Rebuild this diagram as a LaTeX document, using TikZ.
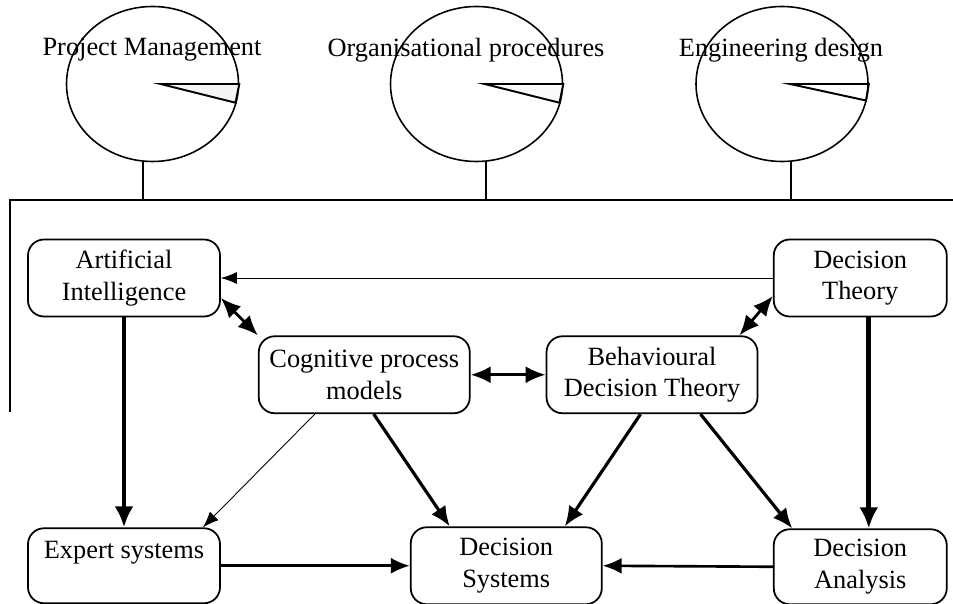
\documentclass[tikz,border=0pt]{standalone}
\usepackage{fontspec}
\setmainfont{Liberation Serif}
\usetikzlibrary{shapes.geometric, arrows.meta, positioning, calc}

\begin{document}
\begin{tikzpicture}[node distance=1cm, font=\fontsize{15}{18}\selectfont]
        \tikzstyle{box} = [rectangle, rounded corners=0.32cm, minimum height=1.54cm, align=center, draw=black, line width=1pt, inner sep=2pt]
        \tikzstyle{area} = [ellipse, minimum width=3.44cm, minimum height=3.1cm, draw=black, line width=0.9pt, inner sep=0pt]
        \tikzstyle{wedge} = [draw=black, line width=1.1pt, line join=miter]
        \tikzstyle{frame} = [line width=1.2pt]
        \tikzstyle{heavy} = [line width=2.6pt, -{Latex[length=4.2mm,width=3.8mm]}]
        \tikzstyle{bold} = [line width=1.8pt, -{Latex[length=4mm,width=3.4mm]}]
        \tikzstyle{plain} = [line width=1.5pt, -{Latex[length=3.8mm,width=3.2mm]}]
        \tikzstyle{both} = [line width=1.6pt, {Latex[length=4mm,width=3.4mm]}-{Latex[length=4mm,width=3.4mm]}]
        \tikzstyle{faint} = [line width=0.5pt, -{Latex[length=3.2mm,width=2.4mm]}]

        \useasboundingbox (0,0) rectangle (19.06,12.06);

        % Application areas
        \node (pm) [area] at (3.05,10.38) {};
        \node (op) [area] at (9.53,10.38) {};
        \node (ed) [area] at (15.64,10.38) {};
        \draw [wedge, fill=gray!8] ([xshift=0.16cm]pm.center) -- (pm.east) -- ($(pm.center)+(1.66,-0.375)$) -- cycle;
        \draw [wedge, fill=gray!4] ([xshift=0.16cm]op.center) -- (op.east) -- ($(op.center)+(1.66,-0.375)$) -- cycle;
        \draw [wedge] ([xshift=0.16cm]ed.center) -- (ed.east) -- ($(ed.center)+(1.68,-0.33)$) -- cycle;
        \node (pmlabel) at (3.04,11.06) {Project Management};
        \node (oplabel) at (9.32,11.06) {Organisational procedures};
        \node (edlabel) at (15.62,11.06) {Engineering design};

        % Bracket joining the areas to the disciplines
        \coordinate (corner) at (0.2,8.06);
        \coordinate (frametop) at (19.06,8.06);
        \coordinate (framebottom) at (0.2,3.82);
        \draw [frame] (framebottom) -- (corner) -- (frametop);
        \draw [frame] ([xshift=-0.19cm]pm.south) -- ([xshift=-0.19cm]pm.south |- corner);
        \draw [frame] ([xshift=0.19cm]op.south) -- ([xshift=0.19cm]op.south |- corner);
        \draw [frame] ([xshift=0.18cm]ed.south) -- ([xshift=0.18cm]ed.south |- corner);

        % Disciplines
        \node (ai) [box, minimum width=3.84cm] at (2.48,6.5) {Artificial\\Intelligence};
        \node (dt) [box, minimum width=3.46cm, right=11.04cm of ai] {Decision\\Theory};
        \node (cog) [box, minimum width=4.22cm, below right=0.36cm and 0.74cm of ai] {Cognitive process\\models};
        \node (beh) [box, minimum width=4.22cm, right=1.5cm of cog] {Behavioural\\Decision Theory};
        \node (es) [box, minimum width=3.84cm, minimum height=1.5cm, below=4.2cm of ai] {Expert systems\\\mbox{}};
        \node (ds) [box, minimum width=3.82cm, right=3.78cm of es] {Decision\\Systems};
        \node (da) [box, minimum width=3.46cm, minimum height=1.5cm, below=4.22cm of dt] {Decision\\Analysis};

        % Arrows
        \draw [faint] (dt.west) -- (ai.east);
        \draw [both] ([yshift=-0.4cm]ai.east) -- (cog.north west);
        \draw [both] ([yshift=-0.36cm]dt.west) -- ([xshift=-0.38cm]beh.north east);
        \draw [both] (cog.east) -- (beh.west);
        \draw [heavy] (ai.south) -- (es.north);
        \draw [heavy] ([xshift=0.17cm]dt.south) -- ([xshift=0.17cm]da.north);
        \draw [faint] ([xshift=-0.99cm]cog.south) -- ([xshift=-0.36cm]es.north east);
        \draw [bold] ([xshift=0.19cm]cog.south) -- ([xshift=-1.13cm]ds.north);
        \draw [bold] ([xshift=-0.23cm]beh.south) -- ([xshift=1.17cm]ds.north);
        \draw [bold] ([xshift=0.97cm]beh.south) -- ([xshift=-1.36cm]da.north);
        \draw [plain] (es.east) -- (ds.west);
        \draw [plain] (da.west) -- (ds.east);
    \end{tikzpicture}
\end{document}
